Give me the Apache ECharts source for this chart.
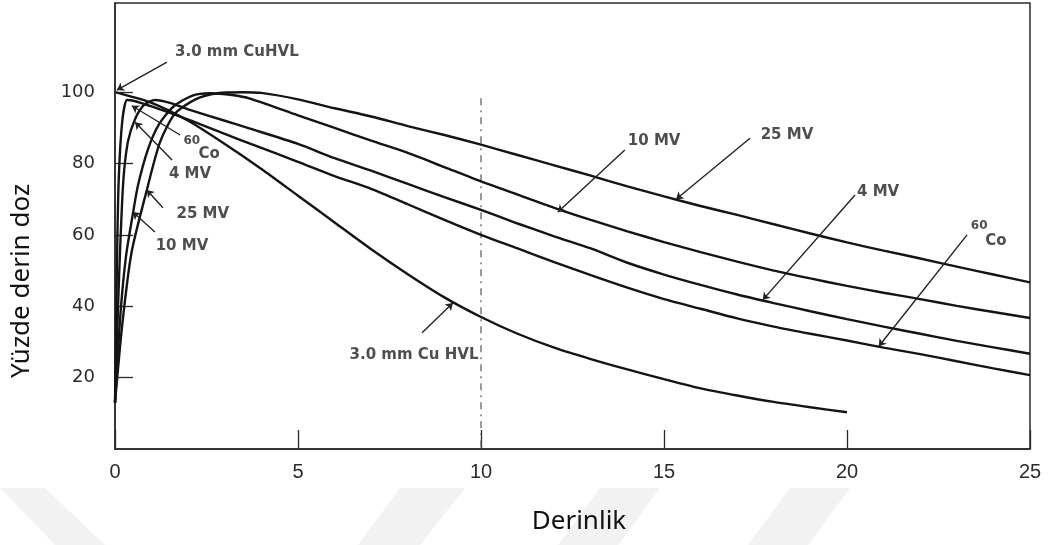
<!DOCTYPE html>
<html>
<head>
<meta charset="utf-8">
<script src="https://cdn.jsdelivr.net/npm/echarts@6/dist/echarts.min.js"></script>
<style>
  html, body { margin: 0; padding: 0; background: #fff; }
  #main { width: 1053px; height: 545px; }
</style>
</head>
<body>
<div id="main"></div>
<script>
// tick labels
const xTicks = [0, 5, 10, 15, 20, 25]
const yTicks = [20, 40, 60, 80, 100]

// depth (cm) / percent depth dose pairs
const cuHvl = [[0,100],[1,97],[2,92],[3,85.5],[4,78.5],[5,71],[6,63.5],[7,56],[8,49],[9,42.5],[10,37],
  [11,32.3],[12,28.4],[13,25.2],[14,22.3],[15,19.6],[16,17],[17,15],[18,13.2],[19,11.7],[20,10.3]]

const co60 = [[0,13],[0.05,50],[0.1,75],[0.2,92],[0.33,97.8],[0.5,97.6],[1,96],[2,92.3],[3,88.3],[3.69,85.6],
  [5,80.5],[6,76.5],[7,72.9],[8,68.6],[9,64.2],[10,60],[11,56.2],[12,52.4],[13,48.7],[14,45.2],[15,42],
  [16,39.3],[17,36.6],[18,34.3],[19,32.3],[20,30.4],[21,28.4],[22,26.6],[23,24.6],[24,22.6],[25,20.7]]

const mv4 = [[0,13],[0.1,45],[0.22,74],[0.35,86],[0.55,92.5],[0.8,96.5],[1.1,97.8],[1.5,97],[2,95.2],[3,92],
  [3.69,89.8],[5,85.5],[6,81.5],[7,78],[8,74.3],[9,70.6],[10,67],[11,63.2],[12,59.6],[13,56.2],[14,52.2],
  [15,48.9],[16,46],[17,43.3],[18,40.9],[19,38.6],[20,36.4],[21,34.3],[22,32.3],[23,30.3],[24,28.5],[25,26.7]]

const mv10 = [[0,13],[0.15,38],[0.3,54],[0.49,66],[0.63,74],[0.9,84],[1.2,91],[1.6,96],[2.1,99],[2.6,99.7],
  [3.2,99.2],[3.69,98.2],[5,93.5],[6,90],[7,86.4],[8,83],[9,79],[10,75],[11,71.3],[12,67.6],[13,64.2],[14,61],
  [15,58],[16,55.2],[17,52.5],[18,50],[19,47.8],[20,45.7],[21,43.8],[22,42],[23,40.1],[24,38.4],[25,36.7]]

const mv25 = [[0,13],[0.2,35],[0.45,55],[0.87,72.6],[1.23,86],[1.64,94],[2.2,98],[2.8,99.7],[3.5,100],[4,99.8],
  [5,98],[6,95.5],[7,93.2],[8,90.5],[9,88],[10,85.3],[11,82.4],[12,79.5],[13,76.6],[14,73.6],[15,70.8],
  [16,68.1],[17,65.6],[18,63],[19,60.4],[20,57.9],[21,55.6],[22,53.4],[23,51.1],[24,48.9],[25,46.7]]

// dash-dot reference line at 10 cm
const refLine = [[10, 0.5], [10, 99]]

// annotation texts and their anchor points (depth, dose)
const labelNames = ['3.0 mm CuHVL', '60', 'Co', '4 MV', '25 MV', '10 MV',
  '10 MV', '25 MV', '4 MV', '60', 'Co', '3.0 mm Cu HVL']
const labelPos = [[3.33,111.2],[2.10,86.3],[2.57,82.7],[2.05,77.1],[2.40,65.9],[1.83,56.9],
  [14.73,86.3],[18.36,88.0],[20.85,72.0],[23.61,62.5],[24.07,58.3],[8.17,26.4]]

// leader lines: [from, to(arrow tip)]
const leaders = [
  [[1.42,108.4],[0.05,100.6]],
  [[1.78,88.0],[0.46,96.2]],
  [[1.56,81.0],[0.55,91.6]],
  [[1.31,67.6],[0.87,72.6]],
  [[1.09,60.8],[0.49,66.4]],
  [[13.93,83.8],[12.10,66.4]],
  [[17.35,87.1],[15.33,70.0]],
  [[20.22,71.2],[17.70,41.8]],
  [[23.28,60.0],[20.87,28.8]],
  [[8.39,32.6],[9.23,40.9]]
]

var myChart = echarts.init(document.getElementById('main'))

const curve = (name, data) => ({
  name: name,
  type: 'line',
  data: data,
  smooth: 0.25,
  showSymbol: false,
  lineStyle: { color: '#141414', width: 2.4 },
  z: 3
})

myChart.setOption({
  animation: false,
  grid: {
    left: 115, right: 23, top: 3, bottom: 96,
    show: true, borderColor: '#2a2a2a', borderWidth: 1.5
  },
  xAxis: {
    type: 'value', min: 0, max: 25,
    axisLine: { lineStyle: { color: '#2a2a2a', width: 1.5 } },
    axisTick: { inside: true, length: 19, customValues: xTicks, lineStyle: { color: '#2a2a2a', width: 1.3 } },
    axisLabel: { customValues: xTicks, margin: 13, fontSize: 20, color: '#2b2b2b',
      fontFamily: 'Liberation Sans, Arial' },
    splitLine: { show: false }
  },
  yAxis: {
    type: 'value', min: 0, max: 125,
    axisLine: { show: true, lineStyle: { color: '#2a2a2a', width: 1.5 } },
    axisTick: { show: true, inside: true, length: 18, customValues: yTicks, lineStyle: { color: '#2a2a2a', width: 1.3 } },
    axisLabel: { customValues: yTicks, margin: 20, fontSize: 18, color: '#2b2b2b', fontFamily: 'DejaVu Sans' },
    splitLine: { show: false }
  },
  graphic: [
    // faint watermark stripes at the bottom
    { type: 'polygon', shape: { points: [[0,488],[45,488],[105,545],[55,545]] }, style: { fill: '#f2f2f2' }, z: -1 },
    { type: 'polygon', shape: { points: [[400,488],[465,488],[420,545],[358,545]] }, style: { fill: '#f2f2f2' }, z: -1 },
    { type: 'polygon', shape: { points: [[600,488],[660,488],[618,545],[558,545]] }, style: { fill: '#f2f2f2' }, z: -1 },
    { type: 'polygon', shape: { points: [[790,488],[850,488],[808,545],[748,545]] }, style: { fill: '#f2f2f2' }, z: -1 },
    {
      type: 'text', x: 22, y: 281, rotation: Math.PI / 2,
      style: { text: 'Yüzde derin doz', font: '26px "Noto Sans"', fill: '#111', align: 'center', verticalAlign: 'middle' }
    },
    {
      type: 'text', x: 579, y: 522,
      style: { text: 'Derinlik', font: '26px "Noto Sans"', fill: '#111', align: 'center', verticalAlign: 'middle' }
    }
  ],
  series: [
    curve('3.0 mm Cu HVL', cuHvl),
    curve('60Co', co60),
    curve('4 MV', mv4),
    curve('10 MV', mv10),
    curve('25 MV', mv25),
    {
      type: 'line', data: refLine, showSymbol: false,
      lineStyle: { color: '#555', width: 1.2, type: [7, 5, 2, 5] }, z: 2
    },
    {
      type: 'lines', coordinateSystem: 'cartesian2d',
      symbol: ['none', 'arrow'], symbolSize: 7,
      lineStyle: { color: '#222', width: 1.4, opacity: 1 },
      data: leaders.map(l => ({ coords: l })),
      z: 4
    },
    {
      type: 'scatter', symbolSize: 0, silent: true,
      data: labelNames.map((n, i) => ({
        name: n, value: labelPos[i],
        label: n === '60' ? { fontSize: 12 } : {}
      })),
      label: {
        show: true, position: 'inside', formatter: '{b}',
        fontFamily: 'DejaVu Sans', fontWeight: 'bold', fontSize: 15, color: '#222'
      },
      z: 5
    }
  ]
})
</script>
</body>
</html>
